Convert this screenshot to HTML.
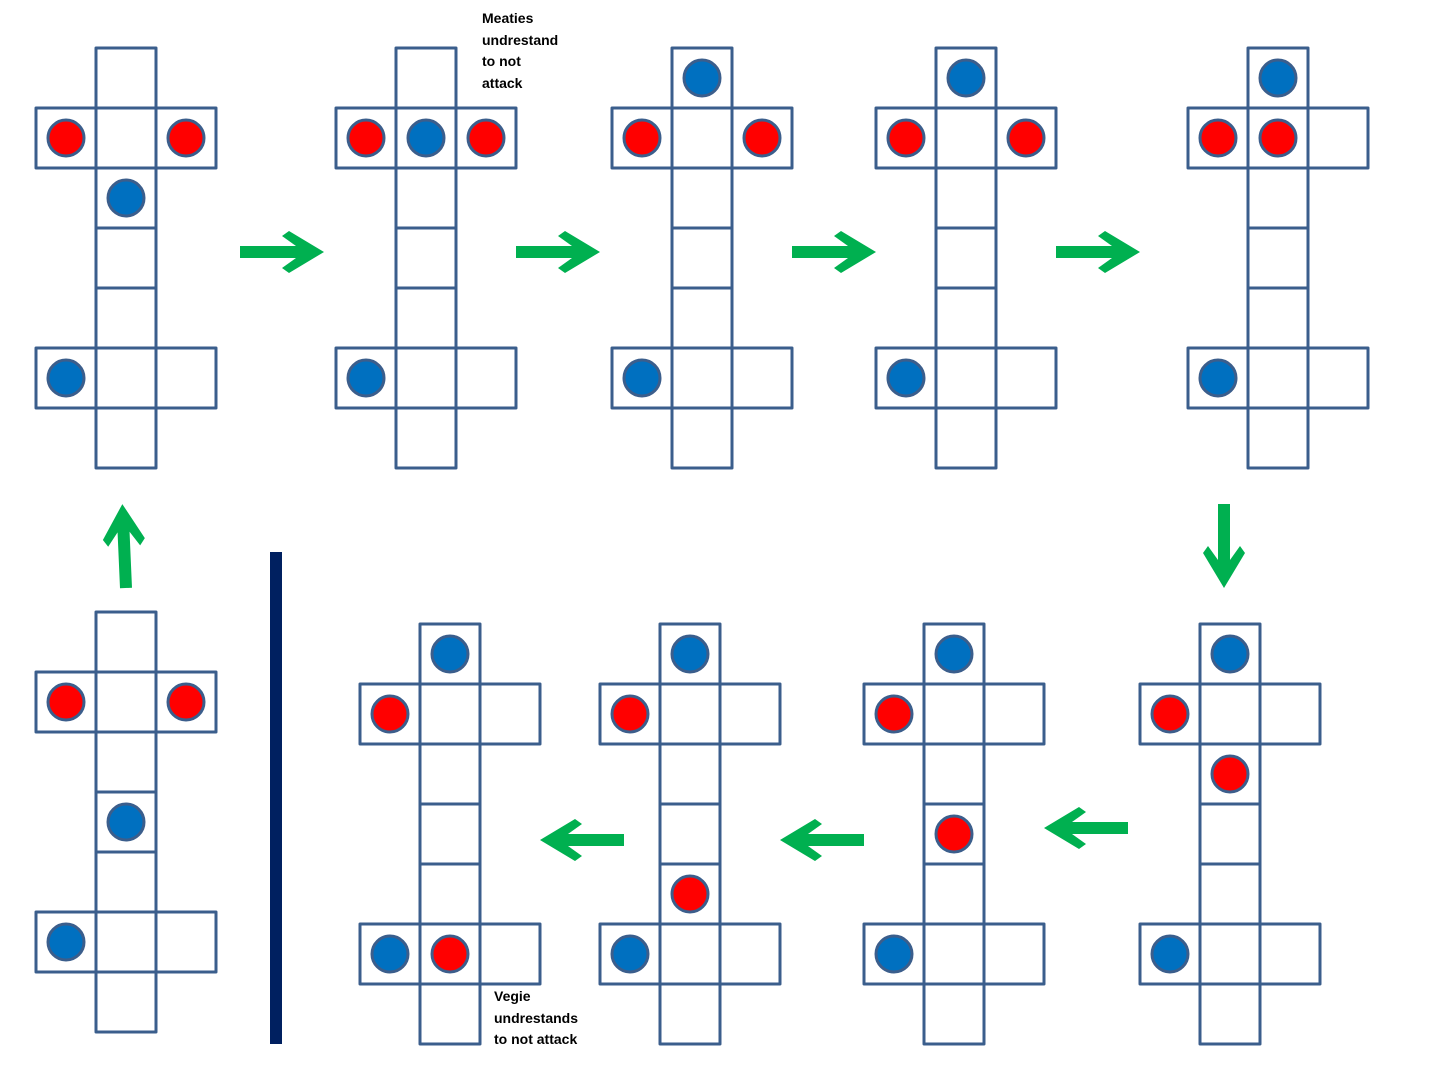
<!DOCTYPE html>
<html><head><meta charset="utf-8"><style>
html,body{margin:0;padding:0;background:#fff;width:1440px;height:1080px;overflow:hidden}
.t{position:absolute;font-family:"Liberation Sans",sans-serif;font-weight:bold;font-size:14px;line-height:21.5px;color:#000}
</style></head><body>
<svg width="1440" height="1080" viewBox="0 0 1440 1080" style="position:absolute;left:0;top:0">
<defs>
<g id="b" fill="none" stroke="#3B5E8C" stroke-width="3" stroke-linejoin="round">
<rect x="0" y="0" width="60" height="420"/>
<rect x="-60" y="60" width="180" height="60"/>
<rect x="-60" y="300" width="180" height="60"/>
<path d="M0 180H60M0 240H60M0 300H60M0 360H60M0 60H60M0 120H60"/>
</g>
<polygon id="ar" points="0,-6 56,-6 42,-16 49,-21 84,0 49,21 42,16 56,6 0,6" fill="#00B050"/>
</defs>
<use href="#b" x="96" y="48"/>
<use href="#b" x="396" y="48"/>
<use href="#b" x="672" y="48"/>
<use href="#b" x="936" y="48"/>
<use href="#b" x="1248" y="48"/>
<use href="#b" x="96" y="612"/>
<use href="#b" x="420" y="624"/>
<use href="#b" x="660" y="624"/>
<use href="#b" x="924" y="624"/>
<use href="#b" x="1200" y="624"/>
<g stroke="#3B5E8C" stroke-width="3">
<g fill="#FF0000">
<circle cx="66" cy="138" r="18"/><circle cx="186" cy="138" r="18"/>
<circle cx="366" cy="138" r="18"/><circle cx="486" cy="138" r="18"/>
<circle cx="642" cy="138" r="18"/><circle cx="762" cy="138" r="18"/>
<circle cx="906" cy="138" r="18"/><circle cx="1026" cy="138" r="18"/>
<circle cx="1218" cy="138" r="18"/><circle cx="1278" cy="138" r="18"/>
<circle cx="66" cy="702" r="18"/><circle cx="186" cy="702" r="18"/>
<circle cx="1170" cy="714" r="18"/><circle cx="1230" cy="774" r="18"/>
<circle cx="894" cy="714" r="18"/><circle cx="954" cy="834" r="18"/>
<circle cx="630" cy="714" r="18"/><circle cx="690" cy="894" r="18"/>
<circle cx="390" cy="714" r="18"/><circle cx="450" cy="954" r="18"/>
</g>
<g fill="#0070C0">
<circle cx="126" cy="198" r="18"/><circle cx="66" cy="378" r="18"/>
<circle cx="426" cy="138" r="18"/><circle cx="366" cy="378" r="18"/>
<circle cx="702" cy="78" r="18"/><circle cx="642" cy="378" r="18"/>
<circle cx="966" cy="78" r="18"/><circle cx="906" cy="378" r="18"/>
<circle cx="1278" cy="78" r="18"/><circle cx="1218" cy="378" r="18"/>
<circle cx="126" cy="822" r="18"/><circle cx="66" cy="942" r="18"/>
<circle cx="1230" cy="654" r="18"/><circle cx="1170" cy="954" r="18"/>
<circle cx="954" cy="654" r="18"/><circle cx="894" cy="954" r="18"/>
<circle cx="690" cy="654" r="18"/><circle cx="630" cy="954" r="18"/>
<circle cx="450" cy="654" r="18"/><circle cx="390" cy="954" r="18"/>
</g>
</g>
<use href="#ar" transform="translate(240,252)"/>
<use href="#ar" transform="translate(516,252)"/>
<use href="#ar" transform="translate(792,252)"/>
<use href="#ar" transform="translate(1056,252)"/>
<use href="#ar" transform="translate(1224,504) rotate(90)"/>
<use href="#ar" transform="translate(1128,828) rotate(180)"/>
<use href="#ar" transform="translate(864,840) rotate(180)"/>
<use href="#ar" transform="translate(624,840) rotate(180)"/>
<use href="#ar" transform="translate(126,588) rotate(-92.5)"/>
<rect x="270" y="552" width="12" height="492" fill="#002060"/>
</svg>
<div class="t" style="left:482px;top:8px">Meaties<br>undrestand<br>to not<br>attack</div>
<div class="t" style="left:494px;top:986px">Vegie<br>undrestands<br>to not attack</div>
</body></html>
